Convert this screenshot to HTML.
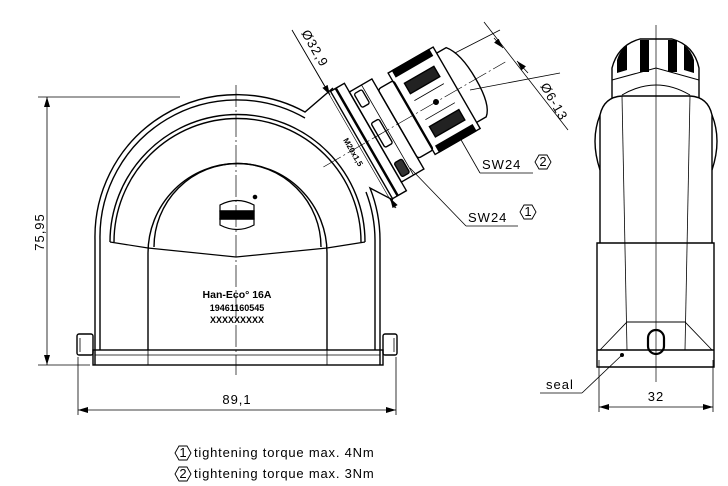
<!DOCTYPE html>
<html><head><meta charset="utf-8"><style>
html,body{margin:0;padding:0;background:#fff;}
svg{display:block;font-family:"Liberation Sans",sans-serif;}
text{fill:#000;font-size:13px;}
</style></head><body>
<svg width="728" height="486" viewBox="0 0 728 486" xmlns="http://www.w3.org/2000/svg">
<defs>
<marker id="a" viewBox="0 0 10 6" refX="10" refY="3" markerWidth="10" markerHeight="6" orient="auto-start-reverse" markerUnits="userSpaceOnUse"><path d="M0,0 L10,3 L0,6 z" fill="#000"/></marker>
</defs>
<g fill="none" stroke="#000" stroke-width="1.4">
<path d="M95,365 L95,240 A142,142 0 0 1 305,112 L333,88"/>
<path d="M380,365 L380,240 A142,142 0 0 0 370,188 L393,200"/>
<path d="M100,350 L100,240 A137,137 0 0 1 305,118"/>
<path d="M375,350 L375,240 A137,137 0 0 0 366,192"/>
<path d="M110,242 A127,127 0 0 1 365,242"/>
<path d="M114,242 A123,123 0 0 1 361,242"/>
<path d="M148,350 L148,253 A89.5,89.5 0 0 1 327,253 L327,350"/>
<path d="M154,247 A83.5,83.5 0 0 1 321,247"/>
<path d="M110,242 L148,248 L236,257 L327,248 L365,242" stroke-width="1.2"/>
<rect x="93" y="350" width="290" height="15"/>
<line x1="95" y1="355" x2="380" y2="355" stroke-width="0.8"/>
<line x1="148" y1="350" x2="148" y2="365" stroke-width="0.8"/>
<line x1="327" y1="350" x2="327" y2="365" stroke-width="0.8"/>
<rect x="77" y="334" width="16" height="21" rx="2"/>
<rect x="383" y="334" width="14" height="21" rx="2"/>
<line x1="80" y1="338" x2="80" y2="352" stroke-width="0.8"/>
<line x1="394" y1="338" x2="394" y2="352" stroke-width="0.8"/>
<line x1="236" y1="85" x2="236" y2="375" stroke-width="0.7" stroke-dasharray="22,3,2,3"/>
<path d="M220,205 Q237,196 254,205 L254,211 L220,211 Z" stroke-width="1.2"/>
<path d="M220,225 Q237,234 254,225 L254,219 L220,219 Z" stroke-width="1.2"/>
<rect x="220" y="211" width="34" height="8" fill="#000"/>
<circle cx="255" cy="197" r="1.6" fill="#000"/>
<g transform="translate(436,102) rotate(-30)">
<line x1="-130" y1="0" x2="80" y2="0" stroke-width="0.7" stroke-dasharray="20,3,2,3"/>
<rect x="-86" y="-62" width="16" height="124"/>
<line x1="-80" y1="-62" x2="-80" y2="62" stroke-width="2.5"/>
<rect x="-70" y="-52" width="26" height="104"/>
<rect x="-67" y="-48" width="9" height="16" rx="2"/>
<rect x="-67" y="-14" width="9" height="28" rx="2"/>
<rect x="-67" y="32" width="9" height="16" rx="2" fill="#333"/>
<line x1="-56" y1="-52" x2="-56" y2="52" stroke-width="0.8"/>
<rect x="-44" y="-40" width="18" height="80" rx="3"/>
<rect x="-27" y="-49" width="52" height="94"/>
<rect x="-22" y="-49" width="42" height="7" fill="#000"/>
<rect x="-22" y="38" width="42" height="7" fill="#000"/>
<rect x="-18" y="-32" width="34" height="12" fill="#222"/>
<rect x="-18" y="18" width="34" height="12" fill="#222"/>
<line x1="-18" y1="-12" x2="16" y2="-12" stroke-width="0.8"/>
<line x1="-18" y1="10" x2="16" y2="10" stroke-width="0.8"/>
<path d="M25,-42 L36,-42 Q46,-30 46,0 Q46,30 36,38 L25,38"/>
<circle cx="0" cy="0" r="2.3" fill="#000"/>
</g>
<text x="0" y="0" transform="translate(343,140) rotate(60)" stroke="none" style="font-size:8px;font-weight:bold">M20x1,5</text>
</g>
<g text-anchor="middle" style="font-weight:bold">
<text x="237" y="298" style="font-size:10.5px">Han-Eco° 16A</text>
<text x="237" y="311" style="font-size:9px">19461160545</text>
<text x="237" y="323" style="font-size:9px">XXXXXXXXX</text>
</g>
<g fill="none" stroke="#000" stroke-width="0.8">
<line x1="38" y1="97" x2="180" y2="97"/>
<line x1="38" y1="365" x2="90" y2="365"/>
<line x1="47" y1="97" x2="47" y2="365" marker-start="url(#a)" marker-end="url(#a)"/>
<line x1="78" y1="357" x2="78" y2="415"/>
<line x1="396" y1="357" x2="396" y2="415"/>
<line x1="78" y1="410" x2="396" y2="410" marker-start="url(#a)" marker-end="url(#a)"/>
<line x1="292" y1="30" x2="330" y2="95" marker-end="url(#a)"/>
<line x1="396" y1="208" x2="390" y2="198" marker-end="url(#a)"/>
<line x1="292" y1="30" x2="395" y2="208" stroke-width="0.6"/>
<line x1="484" y1="22" x2="568" y2="130"/>
<line x1="455" y1="53" x2="500" y2="30"/>
<line x1="470" y1="90" x2="560" y2="73"/>
<line x1="528" y1="73" x2="517" y2="61" marker-end="url(#a)"/>
<line x1="494" y1="38" x2="503" y2="48" marker-end="url(#a)"/>
<line x1="460" y1="138" x2="480" y2="173"/>
<line x1="480" y1="173" x2="533" y2="173"/>
<line x1="410" y1="168" x2="466" y2="226"/>
<line x1="466" y1="226" x2="518" y2="226"/>
<line x1="540" y1="393" x2="582" y2="393"/>
<line x1="582" y1="393" x2="622" y2="355"/>
<line x1="599" y1="360" x2="599" y2="412"/>
<line x1="713" y1="360" x2="713" y2="412"/>
<line x1="599" y1="407" x2="713" y2="407" marker-start="url(#a)" marker-end="url(#a)"/>
</g>
<circle cx="622" cy="355" r="2" fill="#000"/>
<g style="font-size:13px;letter-spacing:1px">
<text x="0" y="0" transform="translate(44,232) rotate(-90)" text-anchor="middle">75,95</text>
<text x="237" y="404" text-anchor="middle">89,1</text>
<text x="0" y="0" transform="translate(301,33) rotate(60)">Ø32,9</text>
<text x="0" y="0" transform="translate(540,86) rotate(60)">Ø6-13</text>
<text x="482" y="169">SW24</text>
<text x="468" y="222">SW24</text>
<text x="546" y="389">seal</text>
<text x="656" y="401" text-anchor="middle">32</text>
</g>
<g fill="none" stroke="#000" stroke-width="0.9">
<path d="M535,162 L539,155 L547,155 L551,162 L547,169 L539,169 Z"/>
<path d="M520,212 L524,205 L532,205 L536,212 L532,219 L524,219 Z"/>
<path d="M175,453 L179,446 L187,446 L191,453 L187,460 L179,460 Z"/>
<path d="M175,474 L179,467 L187,467 L191,474 L187,481 L179,481 Z"/>
</g>
<g style="font-size:11px" text-anchor="middle">
<text x="543" y="166">2</text><text x="528" y="216">1</text>
<text x="183" y="457">1</text><text x="183" y="478">2</text>
</g>
<g style="font-size:12.5px;letter-spacing:0.8px">
<text x="194" y="457">tightening torque max. 4Nm</text>
<text x="194" y="478">tightening torque max. 3Nm</text>
</g>
<g fill="none" stroke="#000" stroke-width="1.4">
<line x1="656" y1="25" x2="656" y2="382" stroke-width="0.7"/>
<path d="M612,98 L612,68 Q618,45 640,39 L672,39 Q694,45 699,68 L699,98"/>
<g fill="#000" stroke="none">
<path d="M617,73 L617,60 Q620,50 627,45 L627,70 Z"/>
<rect x="640" y="40" width="9" height="32"/>
<rect x="668" y="40" width="9" height="32"/>
<path d="M694,73 L694,60 Q691,50 684,45 L684,70 Z"/>
</g>
<path d="M612,80 L656,68 L699,80" stroke-width="1"/>
<path d="M622,95 Q656,75 690,95" stroke-width="1"/>
<path d="M600,243 L600,115 Q604,97 622,96 L690,96 Q708,97 712,115 L712,243"/>
<path d="M600,115 Q590,140 600,170 M712,115 Q722,140 712,170"/>
<path d="M597,243 L714,243 L714,367 L597,367 Z"/>
<line x1="622" y1="96" x2="627" y2="350" stroke-width="0.8"/>
<line x1="690" y1="96" x2="685" y2="350" stroke-width="0.8"/>
<line x1="597" y1="350" x2="714" y2="350"/>
<path d="M600,350 L627,322 L685,322 L712,350" stroke-width="0.9"/>
<rect x="648" y="330" width="16" height="24" rx="8" stroke-width="2.2"/>
</g>
</svg>
</body></html>
